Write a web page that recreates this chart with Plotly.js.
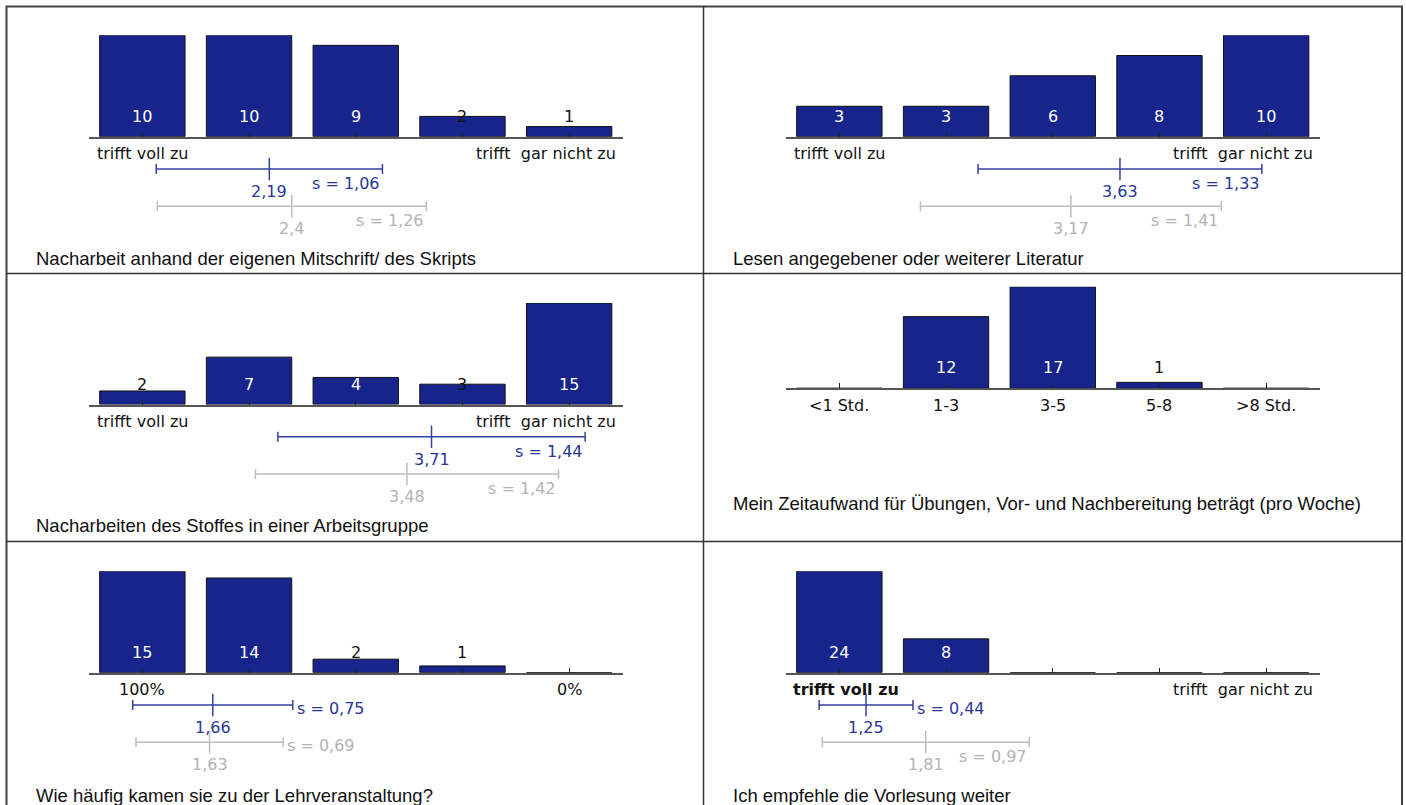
<!DOCTYPE html>
<html><head><meta charset="utf-8">
<script src="https://cdn.plot.ly/plotly-3.0.1.min.js"></script>
<style>html,body{margin:0;padding:0;background:#fff;} #chart{width:1406px;height:805px;}</style>
</head><body><div id="chart"></div>
<script>
// ---------------- data ----------------
const titles = [
  "Nacharbeit anhand der eigenen Mitschrift/ des Skripts",
  "Lesen angegebener oder weiterer Literatur",
  "Nacharbeiten des Stoffes in einer Arbeitsgruppe",
  "Mein Zeitaufwand für Übungen, Vor- und Nachbereitung beträgt (pro Woche)",
  "Wie häufig kamen sie zu der Lehrveranstaltung?",
  "Ich empfehle die Vorlesung weiter"
];
const categories = [1, 2, 3, 4, 5];
const agreeLabels = ["trifft voll zu", "", "", "", "trifft\u00a0\u00a0gar nicht zu"];
const hourLabels = ["&lt;1 Std.", "1-3", "3-5", "5-8", "&gt;8 Std."];
const attendLabels = ["100%", "", "", "", "0%"];

const countsMitschrift = [10, 10, 9, 2, 1];
const countsLiteratur = [3, 3, 6, 8, 10];
const countsArbeitsgruppe = [2, 7, 4, 3, 15];
const countsZeitaufwand = [0, 12, 17, 1, 0];
const countsBesuch = [15, 14, 2, 1, 0];
const countsEmpfehlung = [24, 8, 0, 0, 0];

const means = [2.19, 3.63, 3.71, null, 1.66, 1.25];
const sds = [1.06, 1.33, 1.44, null, 0.75, 0.44];
const cmpMeans = [2.4, 3.17, 3.48, null, 1.63, 1.81];
const cmpSds = [1.26, 1.41, 1.42, null, 0.69, 0.97];

// ---------------- layout / style ----------------
const W = 1406, H = 805;
const S = 106.7;                       // px per category
const cellLeft = [6, 703, 6, 703, 6, 703];
const baselinePx = [136.7, 136.7, 404.5, 388.3, 672.7, 672.7];
const titlePx = [258, 258, 525, 503.5, 795, 795];
const barH = 101.5, statsDepth = 100;
const blueOff = 32.3, grayOff = 69.5;
const BAR = '#16248b', BLUE = 'rgb(40,54,152)', BLUELINE = 'rgb(52,66,160)';
const GRAY = '#b3b3b3', GRAYLINE = '#bdbdbd';
const FONT = 'DejaVu Sans, Verdana, sans-serif';
const TFONT = 'Liberation Sans, Arial, sans-serif';

const panelCounts = [countsMitschrift, countsLiteratur, countsArbeitsgruppe, countsZeitaufwand, countsBesuch, countsEmpfehlung];
const panelLabels = [agreeLabels, agreeLabels, agreeLabels, hourLabels, attendLabels, agreeLabels];
const boldFirstLabel = [false, false, false, false, false, true];

const px = p => p / W, py = p => 1 - p / H;
const fmt = v => String(v).replace('.', ',');

const data = [], annotations = [];
const layout = {
  width: W, height: H, margin: {l: 0, r: 0, t: 0, b: 0},
  paper_bgcolor: '#fff', plot_bgcolor: 'rgba(0,0,0,0)', showlegend: false,
  annotations: annotations, shapes: []
};

panelCounts.forEach((counts, i) => {
  const n = i + 1, sn = n + 6;
  const xid = 'x' + (n === 1 ? '' : n), yid = 'y' + (n === 1 ? '' : n), sid = 'y' + sn;
  const x0 = cellLeft[i] + 83, x1 = x0 + 5 * S;
  const base = baselinePx[i];
  const maxV = Math.max(...counts);
  layout['xaxis' + (n === 1 ? '' : n)] = {
    domain: [px(x0), px(x1)], range: [0.5, 5.5], anchor: yid,
    tickmode: 'array', tickvals: categories, ticks: 'inside', ticklen: 5, tickwidth: 1, tickcolor: '#222',
    showticklabels: false, showline: true, linecolor: '#555', linewidth: 2,
    showgrid: false, zeroline: false, fixedrange: true
  };
  layout['yaxis' + (n === 1 ? '' : n)] = {
    domain: [py(base), py(base - barH)], range: [0, maxV], anchor: xid,
    visible: false, showgrid: false, zeroline: false, fixedrange: true
  };
  layout['yaxis' + sn] = {
    domain: [py(base + statsDepth), py(base)], range: [statsDepth, 0], anchor: xid,
    visible: false, showgrid: false, zeroline: false, fixedrange: true
  };
  data.push({
    type: 'bar', x: categories, y: counts, xaxis: xid, yaxis: yid, width: 0.8,
    marker: {color: BAR, line: {color: '#111', width: 1}}, hoverinfo: 'skip'
  });
  // value labels
  counts.forEach((v, k) => {
    if (v === 0) return;
    annotations.push({
      xref: xid, yref: yid, x: categories[k], y: 0, yshift: 20.5, yanchor: 'middle',
      text: String(v), showarrow: false,
      font: {family: FONT, size: 16, color: (v / maxV >= 0.25) ? '#fff' : '#111'}
    });
  });
  // scale labels
  panelLabels[i].forEach((t, k) => {
    if (!t) return;
    const long = t.indexOf('gar nicht') >= 0;
    const bold = boldFirstLabel[i] && k === 0;
    annotations.push({
      xref: xid, yref: yid, x: categories[k], y: 0, yshift: -17, yanchor: 'middle',
      xanchor: long ? 'right' : 'center', xshift: long ? 49 : (bold ? 7 : 0),
      text: bold ? '<b>' + t + '</b>' : t, showarrow: false,
      font: {family: FONT, size: 16, color: '#111'}
    });
  });
  // title
  annotations.push({
    xref: 'paper', yref: 'paper', x: px(cellLeft[i] + 28), y: py(titlePx[i]),
    xanchor: 'left', yanchor: 'middle', text: titles[i], showarrow: false,
    font: {family: TFONT, size: 18.5, color: '#111'}
  });
  // mean / sd bars
  if (means[i] !== null) {
    [[means[i], sds[i], blueOff, BLUE, BLUELINE], [cmpMeans[i], cmpSds[i], grayOff, GRAY, GRAYLINE]].forEach(([m, s, off, tc, lc]) => {
      data.push({
        type: 'scatter', mode: 'markers', x: [m], y: [off], xaxis: xid, yaxis: sid, hoverinfo: 'skip',
        marker: {symbol: 'line-ns', size: 16, line: {width: 1.5, color: lc}},
        error_x: {type: 'data', array: [s], symmetric: true, color: lc, thickness: 1.5, width: 5}
      });
      annotations.push({
        xref: xid, yref: sid, x: m, y: off + 22.5, yanchor: 'middle', xanchor: 'center',
        text: fmt(m), showarrow: false, font: {family: FONT, size: 16, color: tc}
      });
      const narrow = s * S < 90;
      annotations.push({
        xref: xid, yref: sid, x: m + s, y: off + (narrow ? 3.5 : 14.5), yanchor: 'middle',
        xanchor: narrow ? 'left' : 'right', xshift: narrow ? 2 : 0,
        text: 's = ' + fmt(s), showarrow: false, font: {family: FONT, size: 16, color: tc}
      });
    });
  }
});

// cell borders
const L = '#333';
layout.shapes.push(
  {type: 'rect', xref: 'paper', yref: 'paper', x0: px(6.5), x1: px(1402), y0: py(806), y1: py(6.5), line: {color: '#444', width: 2}},
  {type: 'line', xref: 'paper', yref: 'paper', x0: px(703.5), x1: px(703.5), y0: py(806), y1: py(6.5), line: {color: L, width: 1.5}},
  {type: 'line', xref: 'paper', yref: 'paper', x0: px(6.5), x1: px(1402), y0: py(273.5), y1: py(273.5), line: {color: L, width: 1.5}},
  {type: 'line', xref: 'paper', yref: 'paper', x0: px(6.5), x1: px(1402), y0: py(541.5), y1: py(541.5), line: {color: L, width: 1.5}}
);

Plotly.newPlot('chart', data, layout, {staticPlot: true, displayModeBar: false});
</script></body></html>
